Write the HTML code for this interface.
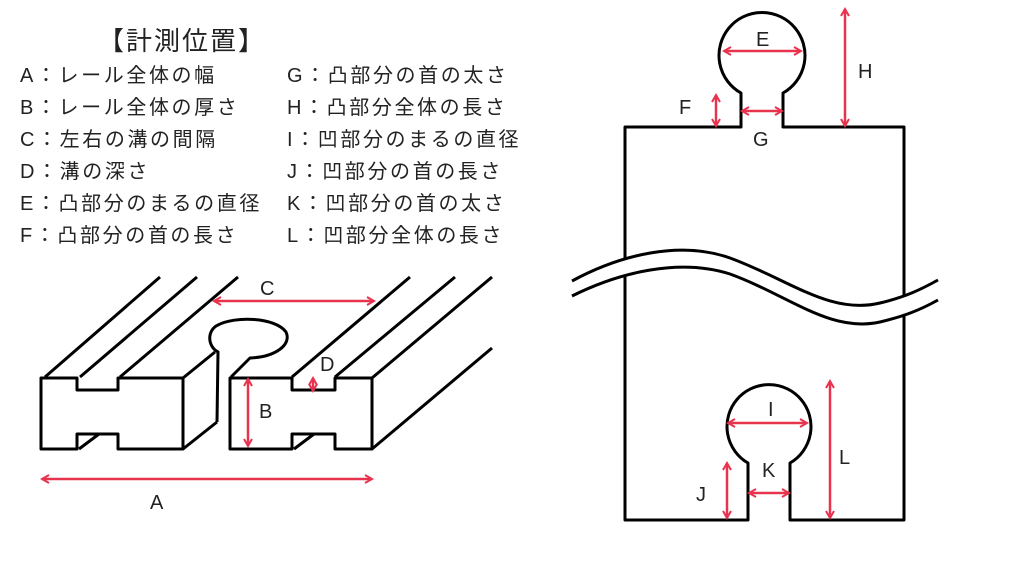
<!DOCTYPE html>
<html><head><meta charset="utf-8"><style>
html,body{margin:0;padding:0;background:#fff;}
svg{display:block;}
text{font-family:"Liberation Sans","Noto Sans CJK JP",sans-serif;fill:#222;}
</style></head><body>
<svg width="1024" height="576" viewBox="0 0 1024 576" xmlns="http://www.w3.org/2000/svg">
<defs>
<marker id="ah" viewBox="0 0 10 10" refX="8" refY="5" markerWidth="4" markerHeight="4" orient="auto-start-reverse">
<path d="M1,1 L8,5 L1,9" fill="none" stroke="#e8334f" stroke-width="2"/>
</marker>
</defs>
<text x="98" y="50" font-size="26" letter-spacing="2">【計測位置】</text>
<g font-size="20" letter-spacing="2.6">
<text x="20" y="82">A：レール全体の幅</text>
<text x="20" y="114">B：レール全体の厚さ</text>
<text x="20" y="146">C：左右の溝の間隔</text>
<text x="20" y="178">D：溝の深さ</text>
<text x="20" y="210">E：凸部分のまるの直径</text>
<text x="20" y="242">F：凸部分の首の長さ</text>
<text x="287" y="82">G：凸部分の首の太さ</text>
<text x="287" y="114">H：凸部分全体の長さ</text>
<text x="287" y="146">I：凹部分のまるの直径</text>
<text x="287" y="178">J：凹部分の首の長さ</text>
<text x="287" y="210">K：凹部分の首の太さ</text>
<text x="287" y="242">L：凹部分全体の長さ</text>
</g>
<!-- rail -->
<g fill="none" stroke="#000" stroke-width="3" stroke-linejoin="round">
<path d="M41,378 L77,378 L77,390 L118,390 L118,378 L183,378 L183,449 L118,449 L118,434 L77,434 L77,449 L41,449 Z"/>
<line x1="45" y1="377" x2="160" y2="277"/>
<line x1="80" y1="377" x2="197" y2="277"/>
<line x1="120" y1="377" x2="238" y2="277"/>
<line x1="183" y1="378" x2="215" y2="352"/>
<line x1="183" y1="449" x2="217" y2="422"/>
<path d="M217,422 L218,352 C207,346 207,330 218,325 C235,316 275,317 286,332 C292,345 275,357 250,358 L231,377"/>
<path d="M230,378 L292,378 L292,390 L335,390 L335,378 L372,378 L372,449 L335,449 L335,434 L292,434 L292,449 L230,449 Z"/>
<line x1="292" y1="377" x2="410" y2="277"/>
<line x1="335" y1="377" x2="455" y2="277"/>
<line x1="372" y1="378" x2="492" y2="277"/>
<line x1="372" y1="449" x2="492" y2="348"/>
<line x1="79" y1="449" x2="99" y2="434"/>
<line x1="294" y1="449" x2="314" y2="434"/>
</g>
<g stroke="#e8334f" stroke-width="2.5" fill="none">
<line x1="42" y1="479" x2="372" y2="479" marker-start="url(#ah)" marker-end="url(#ah)"/>
<line x1="214" y1="301" x2="374" y2="301" marker-start="url(#ah)" marker-end="url(#ah)"/>
<line x1="248" y1="379" x2="248" y2="446" marker-start="url(#ah)" marker-end="url(#ah)"/>
<line x1="313" y1="378" x2="313" y2="391" marker-start="url(#ah)" marker-end="url(#ah)"/>
</g>
<g font-size="20">
<text x="260" y="295">C</text>
<text x="320" y="371">D</text>
<text x="259" y="418">B</text>
<text x="150" y="509">A</text>
</g>
<!-- right piece -->
<g fill="none" stroke="#000" stroke-width="3" stroke-linejoin="round">
<path d="M625,520 L625,127 L741,127 L741,93 A43,43 0 1 1 783,93 L783,127 L904,127 L904,520 L790,520 L790,463 A42,42 0 1 0 748,463 L748,520 Z"/>
</g>
<path d="M572,281 C620,255 680,240 730,258 C790,280 830,315 880,303 C905,297 920,290 938,280 L938,300 C920,310 905,316 880,322 C830,333 790,296 730,274 C680,258 620,272 572,296 Z" fill="#fff" stroke="none"/>
<g fill="none" stroke="#000" stroke-width="3">
<path d="M572,281 C620,255 680,240 730,258 C790,280 830,315 880,303 C905,297 920,290 938,280"/>
<path d="M572,296 C620,272 680,258 730,274 C790,296 830,333 880,322 C905,316 920,310 938,300"/>
</g>
<g stroke="#e8334f" stroke-width="2.5" fill="none">
<line x1="724" y1="51" x2="801" y2="51" marker-start="url(#ah)" marker-end="url(#ah)"/>
<line x1="742" y1="111" x2="782" y2="111" marker-start="url(#ah)" marker-end="url(#ah)"/>
<line x1="716" y1="95" x2="716" y2="126" marker-start="url(#ah)" marker-end="url(#ah)"/>
<line x1="845" y1="9" x2="845" y2="126" marker-start="url(#ah)" marker-end="url(#ah)"/>
<line x1="728" y1="423" x2="807" y2="423" marker-start="url(#ah)" marker-end="url(#ah)"/>
<line x1="749" y1="493" x2="789" y2="493" marker-start="url(#ah)" marker-end="url(#ah)"/>
<line x1="727" y1="463" x2="727" y2="518" marker-start="url(#ah)" marker-end="url(#ah)"/>
<line x1="830" y1="381" x2="830" y2="518" marker-start="url(#ah)" marker-end="url(#ah)"/>
</g>
<g font-size="20">
<text x="756" y="46">E</text>
<text x="679" y="114">F</text>
<text x="753" y="146">G</text>
<text x="858" y="78">H</text>
<text x="768" y="416">I</text>
<text x="762" y="477">K</text>
<text x="696" y="501">J</text>
<text x="839" y="464">L</text>
</g>
</svg>
</body></html>
